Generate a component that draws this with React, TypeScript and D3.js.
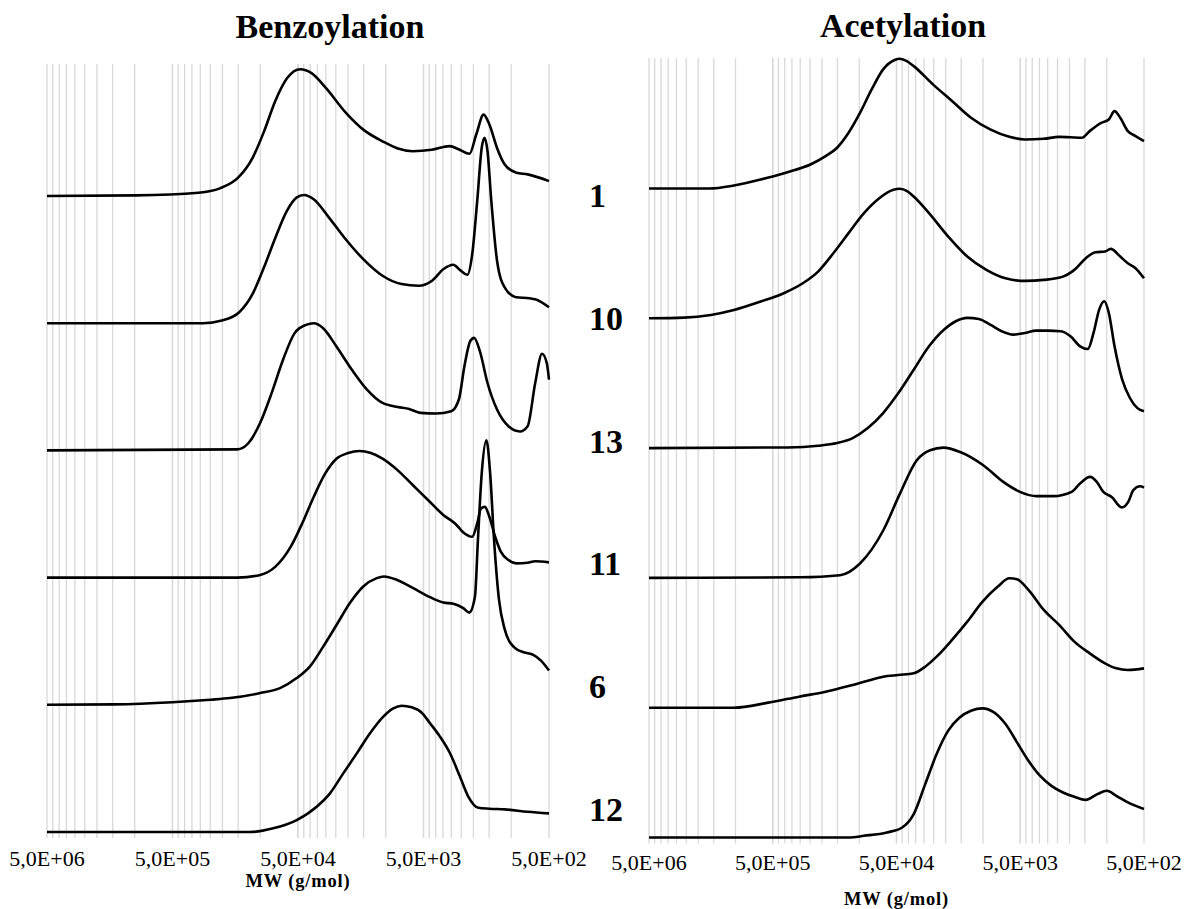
import * as d3 from "d3";
import { useEffect, useRef } from "react";

const W = 1197;
const H = 909;

// sample labels shown between the two panels (top to bottom)
const sampleLabels = ["1", "10", "13", "11", "6", "12"];

// major ticks of the reversed log axis
const tickValues = [5e6, 5e5, 5e4, 5e3, 5e2];
const tickLabels = ["5,0E+06", "5,0E+05", "5,0E+04", "5,0E+03", "5,0E+02"];

// GPC traces: [MW (g/mol), signal] ; signal is in units of the trace offset
const benzo1: [number, number][] = [
  [5e6, 0], [9.8e5, 0.005], [3.1e5, 0.026], [2.1e5, 0.06], [1.5e5, 0.144], [1.15e5, 0.3],
  [9.3e4, 0.51], [7.6e4, 0.745], [6.1e4, 0.927], [4.8e4, 0.997], [3.9e4, 0.966], [3.0e4, 0.85],
  [2.1e4, 0.66], [1.5e4, 0.52], [1.06e4, 0.43], [8000, 0.373], [6100, 0.352], [4300, 0.363],
  [3100, 0.392], [2600, 0.366], [2150, 0.332], [1900, 0.483], [1660, 0.64], [1490, 0.56],
  [1300, 0.38], [1130, 0.25], [910, 0.183], [740, 0.17], [500, 0.117],
];
const benzo10: [number, number][] = [
  [5e6, 0], [2.86e5, 0], [2.02e5, 0.021], [1.47e5, 0.086], [1.15e5, 0.23], [9.33e4, 0.439],
  [7.56e4, 0.674], [6.13e4, 0.883], [5.14e4, 0.987], [4.47e4, 1.008], [3.75e4, 0.974],
  [2.83e4, 0.83], [2.14e4, 0.674], [1.51e4, 0.504], [1.06e4, 0.373], [7485, 0.308], [5458, 0.295],
  [4274, 0.334], [3460, 0.426], [2904, 0.46], [2523, 0.413], [2239, 0.381], [2045, 0.543],
  [1866, 0.961], [1718, 1.379], [1633, 1.457], [1545, 1.352], [1441, 0.961], [1297, 0.491],
  [1128, 0.282], [914, 0.204], [714, 0.196], [644, 0.188], [500, 0.125],
];
const benzo13: [number, number][] = [
  [5e6, 0], [1.52e5, 0.008], [1.235e5, 0.06], [1.0e5, 0.217], [8.1e4, 0.452], [6.58e4, 0.713],
  [5.32e4, 0.922], [4.32e4, 0.987], [3.75e4, 1.0], [3.15e4, 0.961], [2.47e4, 0.817],
  [1.86e4, 0.634], [1.41e4, 0.478], [1.06e4, 0.373], [8017, 0.342], [6502, 0.326], [5274, 0.295],
  [3981, 0.29], [3007, 0.308], [2614, 0.4], [2353, 0.67], [2119, 0.86], [1976, 0.885],
  [1778, 0.78], [1545, 0.53], [1297, 0.321], [1052, 0.19], [852, 0.149], [740, 0.19],
  [644, 0.53], [568, 0.76], [521, 0.687], [500, 0.556],
];
const benzo11: [number, number][] = [
  [5e6, 0], [1.52e5, 0], [1.0e5, 0.021], [7.56e4, 0.086], [5.71e4, 0.243], [4.63e4, 0.426],
  [3.75e4, 0.634], [3.04e4, 0.817], [2.47e4, 0.935], [1.995e4, 0.979], [1.62e4, 0.995],
  [1.312e4, 0.979], [1.06e4, 0.935], [8017, 0.843], [6068, 0.726], [4583, 0.608], [3460, 0.491],
  [2804, 0.426], [2353, 0.347], [2045, 0.321], [1866, 0.426], [1741, 0.543], [1622, 0.556],
  [1493, 0.478], [1343, 0.321], [1211, 0.204], [1052, 0.138], [914, 0.112], [740, 0.117],
  [644, 0.128], [500, 0.12],
];
const benzo6: [number, number][] = [
  [5e6, 0], [1.44e6, 0.003], [5.02e5, 0.02], [2.49e5, 0.04], [1.74e5, 0.053], [1.0e5, 0.092],
  [6.95e4, 0.131], [5.12e4, 0.21], [4.01e4, 0.302], [3.14e4, 0.459], [2.46e4, 0.629],
  [1.93e4, 0.8], [1.51e4, 0.93], [1.18e4, 0.996], [1.033e4, 1.009], [8183, 0.983],
  [6031, 0.917], [4437, 0.846], [3475, 0.804], [2895, 0.794], [2410, 0.76], [2158, 0.725],
  [1945, 0.851], [1841, 1.3], [1718, 1.82], [1577, 2.08], [1472, 1.82], [1371, 1.3], [1253, 0.83],
  [1128, 0.595], [946, 0.452], [794, 0.413], [667, 0.392], [579, 0.347], [500, 0.269],
];
const benzo12: [number, number][] = [
  [5e6, 0], [1.2e5, 0], [7.87e4, 0.029], [5.12e4, 0.094], [3.55e4, 0.199], [2.78e4, 0.304],
  [2.18e4, 0.461], [1.7e4, 0.618], [1.334e4, 0.776], [1.045e4, 0.907], [8709, 0.972],
  [7464, 0.993], [6208, 0.98], [5164, 0.938], [4437, 0.855], [3698, 0.75], [3075, 0.619],
  [2559, 0.435], [2198, 0.278], [1828, 0.19], [1500, 0.183], [1128, 0.178], [740, 0.159],
  [500, 0.146],
];

const acet1: [number, number][] = [
  [5e6, 0], [1.63e6, 0], [1.03e6, 0.023], [6.26e5, 0.069], [3.8e5, 0.126], [2.48e5, 0.185],
  [1.87e5, 0.249], [1.51e5, 0.314], [1.22e5, 0.429], [9.84e4, 0.584], [7.94e4, 0.763],
  [6.41e4, 0.918], [5.18e4, 0.99], [4.7e4, 1.0], [4.2e4, 0.985], [3.63e4, 0.943], [2.54e4, 0.802],
  [1.78e4, 0.674], [1.25e4, 0.545], [8749, 0.455], [6127, 0.398], [4604, 0.378], [3228, 0.383],
  [2426, 0.398], [1585, 0.391], [1374, 0.442], [1109, 0.506], [962, 0.532], [865, 0.596],
  [778, 0.545], [675, 0.442], [585, 0.404], [500, 0.365],
];
const acet10: [number, number][] = [
  [5e6, 0], [2.6e6, 0.005], [1.58e6, 0.026], [1.03e6, 0.064], [6.26e5, 0.129], [4.08e5, 0.193],
  [2.86e5, 0.27], [2.15e5, 0.36], [1.62e5, 0.501], [1.22e5, 0.656], [9.16e4, 0.81],
  [6.89e4, 0.925], [5.3e4, 0.99], [4.7e4, 0.998], [4.1e4, 0.98], [3.63e4, 0.938], [2.73e4, 0.81],
  [1.91e4, 0.63], [1.34e4, 0.476], [9390, 0.373], [6576, 0.308], [4604, 0.288], [3228, 0.296],
  [2259, 0.321], [1828, 0.373], [1476, 0.463], [1235, 0.509], [1033, 0.514], [929, 0.535],
  [778, 0.476], [675, 0.424], [585, 0.386], [500, 0.308],
];
const acet13: [number, number][] = [
  [5e6, 0], [3.8e5, 0.005], [2.15e5, 0.018], [1.51e5, 0.039], [1.13e5, 0.077], [8.53e4, 0.154],
  [6.41e4, 0.27], [4.83e4, 0.424], [3.63e4, 0.604], [2.73e4, 0.784], [2.06e4, 0.913],
  [1.66e4, 0.977], [1.34e4, 1.003], [1.08e4, 0.995], [8749, 0.951], [7062, 0.9], [5701, 0.874],
  [4604, 0.887], [3723, 0.905], [3007, 0.905], [2344, 0.9], [1963, 0.861], [1640, 0.784],
  [1422, 0.763], [1279, 0.887], [1151, 1.067], [1047, 1.131], [962, 1.041], [865, 0.784],
  [750, 0.527], [650, 0.386], [565, 0.308], [500, 0.283],
];
const acet11: [number, number][] = [
  [5e6, 0], [3.01e5, 0.005], [1.43e5, 0.021], [9.86e4, 0.111], [6.39e4, 0.367], [4.69e4, 0.649],
  [3.43e4, 0.906], [2.68e4, 0.983], [2.09e4, 1.004], [1.53e4, 0.97], [9950, 0.868],
  [6854, 0.74], [5025, 0.663], [3682, 0.63], [2704, 0.63], [1919, 0.663], [1644, 0.727],
  [1365, 0.778], [1205, 0.74], [1066, 0.663], [912, 0.624], [757, 0.543], [670, 0.586],
  [610, 0.676], [538, 0.706], [500, 0.696],
];
const acet6: [number, number][] = [
  [5e6, 0], [1.03e6, 0], [5.43e5, 0.039], [3.07e5, 0.085], [1.87e5, 0.123], [1.22e5, 0.167],
  [8.53e4, 0.208], [6.41e4, 0.239], [4.83e4, 0.252], [3.63e4, 0.265], [2.93e4, 0.316],
  [2.37e4, 0.393], [1.78e4, 0.522], [1.34e4, 0.663], [1.008e4, 0.817], [7587, 0.933],
  [6127, 0.997], [5308, 0.99], [4292, 0.907], [3228, 0.753], [2426, 0.638], [1828, 0.509],
  [1374, 0.419], [1033, 0.342], [836, 0.303], [675, 0.29], [500, 0.303],
];
const acet12: [number, number][] = [
  [5e6, 0], [1.22e5, 0], [9.16e4, 0.013], [5.97e4, 0.039], [4.5e4, 0.077], [3.63e4, 0.18],
  [2.93e4, 0.411], [2.37e4, 0.643], [1.91e4, 0.823], [1.545e4, 0.925], [1.25e4, 0.977],
  [1.008e4, 0.995], [8143, 0.964], [6576, 0.874], [5308, 0.733], [4292, 0.591], [3467, 0.476],
  [2800, 0.398], [2259, 0.347], [1828, 0.314], [1476, 0.29], [1191, 0.334], [998, 0.36],
  [836, 0.321], [675, 0.27], [500, 0.219],
];

const panels = [
  {
    title: "Benzoylation",
    traces: [benzo1, benzo10, benzo13, benzo11, benzo6, benzo12],
    left: 47, right: 549, top: 64, base: 832, step: 127.2,
    titleX: 330, titleY: 38, tickY: 866, axisTitleY: 887,
  },
  {
    title: "Acetylation",
    traces: [acet1, acet10, acet13, acet11, acet6, acet12],
    left: 649, right: 1144, top: 58, base: 837.5, step: 129.8,
    titleX: 903, titleY: 37, tickY: 870, axisTitleY: 905,
  },
];

const FONT = "'Liberation Serif', 'Times New Roman', serif";

const App = () => {
  const ref = useRef<SVGSVGElement>(null);

  useEffect(() => {
    const svg = d3.select(ref.current);
    svg.selectAll("*").remove();

    // minor gridlines like excel: 500*k in every decade
    const gridValues: number[] = [];
    for (let dec = 500; dec < 5e6; dec *= 10) {
      for (let k = 1; k <= 10; k++) gridValues.push(dec * k);
    }

    panels.forEach((p) => {
      const x = d3.scaleLog().domain([5e6, 500]).range([p.left, p.right]);
      const y = d3.scaleLinear().domain([0, 6]).range([p.base, p.base - 6 * p.step]);

      const g = svg.append("g");

      g.selectAll(".grid")
        .data(gridValues)
        .enter()
        .append("line")
        .attr("x1", (d) => x(d))
        .attr("x2", (d) => x(d))
        .attr("y1", p.top)
        .attr("y2", p.base + 6)
        .attr("stroke", "#d9d9d9")
        .attr("stroke-width", 1.3);

      g.selectAll(".tick")
        .data(tickValues)
        .enter()
        .append("text")
        .attr("x", (d) => x(d))
        .attr("y", p.tickY)
        .attr("text-anchor", "middle")
        .style("font-family", FONT)
        .style("font-size", "22px")
        .text((d, i) => tickLabels[i]);

      // data ordered by decreasing MW -> increasing screen x
      const line = d3
        .line<[number, number]>()
        .x((d) => x(d[0]))
        .curve(d3.curveMonotoneX);

      p.traces.forEach((tr, i) => {
        const offset = 5 - i;
        g.append("path")
          .datum(tr)
          .attr("d", line.y((d) => y(d[1] + offset)))
          .attr("fill", "none")
          .attr("stroke", "#000")
          .attr("stroke-width", 2.6)
          .attr("stroke-linejoin", "round");
      });

      g.append("text")
        .attr("x", p.titleX)
        .attr("y", p.titleY)
        .attr("text-anchor", "middle")
        .style("font-family", FONT)
        .style("font-weight", "bold")
        .style("font-size", "34px")
        .text(p.title);

      g.append("text")
        .attr("x", (p.left + p.right) / 2)
        .attr("y", p.axisTitleY)
        .attr("text-anchor", "middle")
        .style("font-family", FONT)
        .style("font-weight", "bold")
        .style("font-size", "18.5px")
        .style("letter-spacing", "0.8px")
        .text("MW (g/mol)");
    });

    // sample numbers in the middle
    svg.selectAll(".sample")
      .data(sampleLabels)
      .enter()
      .append("text")
      .attr("x", 589)
      .attr("y", (d, i) => 207 + i * 122.8)
      .style("font-family", FONT)
      .style("font-weight", "bold")
      .style("font-size", "34px")
      .text((d) => d);
  }, []);

  return (
    <svg
      ref={ref}
      width={W}
      height={H}
      style={{ position: "absolute", left: 0, top: 0, background: "#fff" }}
    />
  );
};

export default App;
